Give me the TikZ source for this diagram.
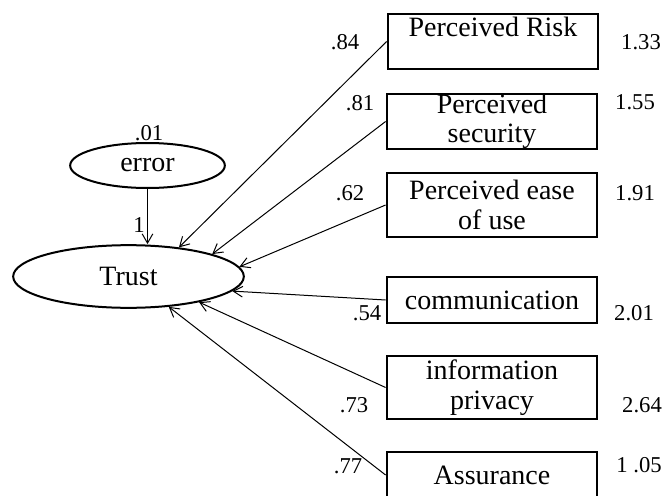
\documentclass[tikz,border=0pt]{standalone}
\usepackage{fontspec}
\setmainfont{Liberation Serif}
\usetikzlibrary{shapes.geometric,arrows.meta}

\tikzset{every picture/.style={line width=0.75pt}}
\tikzset{
  varbox/.style={draw, rectangle, line width=1.6pt, minimum width=158pt, inner sep=0pt, align=center, font=\fontsize{21}{22}\selectfont},
  latent/.style={draw, ellipse, line width=1.5pt, inner sep=0pt, font=\fontsize{21}{22}\selectfont},
  coef/.style={inner sep=0.75pt, font=\fontsize{17}{17}\selectfont},
  effect/.style={-{Straight Barb[length=7pt,width=8pt]}, line width=0.75pt}
}

\begin{document}
\begin{tikzpicture}[x=0.75pt,y=0.75pt,yscale=-1,xscale=1]
\useasboundingbox (0,0) rectangle (665,496);

%Shape: Ellipse [error]
\draw (147.5,165.5) node [latent, minimum width=116pt, minimum height=33.75pt] (error) {error};
%Shape: Ellipse [Trust]
\draw (128.5,276.5) node [latent, minimum width=173pt, minimum height=47pt] (trust) {Trust};

%Shape: Rectangle [observed variables]
\draw (493,41.5) node [varbox, minimum height=41.25pt] (risk) {Perceived Risk\\\mbox{}};
\draw (492,121.5) node [varbox, minimum height=41.25pt] (security) {Perceived\\security};
\draw (492,205) node [varbox, minimum height=48pt] (ease) {Perceived ease\\of use};
\draw (492,300) node [varbox, minimum height=34.5pt] (comm) {communication};
\draw (492,387.5) node [varbox, minimum height=47.25pt] (privacy) {information\\privacy};
\draw (492,475) node [varbox, minimum height=34.5pt] (assur) {Assurance};

%Straight Lines
\draw [effect] (error.south) -- (error.south |- trust.north);
\draw [effect] (risk.west) -- (trust.30);
\draw [effect] (security.west) -- (trust.15);
\draw [effect] (ease.west) -- (trust.5);
\draw [effect] (comm.west) -- (trust.-8);
\draw [effect] (privacy.west) -- (trust.-20);
\draw [effect] (assur.west) -- (trust.-37);

% Text Node
\draw (149,133) node [coef] (errvar) {.01};
% Text Node
\draw (139,225) node [coef] (errload) {1};
% Text Node
\draw (345,42) node [coef] (riskload) {.84};
% Text Node
\draw (360,103) node [coef] (secload) {.81};
% Text Node
\draw (350,193) node [coef] (easeload) {.62};
% Text Node
\draw (367,313) node [coef] (commload) {.54};
% Text Node
\draw (354,405) node [coef] (privload) {.73};
% Text Node
\draw (348,466) node [coef] (assurload) {.77};
% Text Node
\draw (641,42) node [coef] (riskvar) {1.33};
% Text Node
\draw (635,102) node [coef] (secvar) {1.55};
% Text Node
\draw (635,193) node [coef] (easevar) {1.91};
% Text Node
\draw (634,313) node [coef] (commvar) {2.01};
% Text Node
\draw (642,405) node [coef] (privvar) {2.64};
% Text Node
\draw (639,465) node [coef] (assurvar) {1 .05};

\end{tikzpicture}
\end{document}
